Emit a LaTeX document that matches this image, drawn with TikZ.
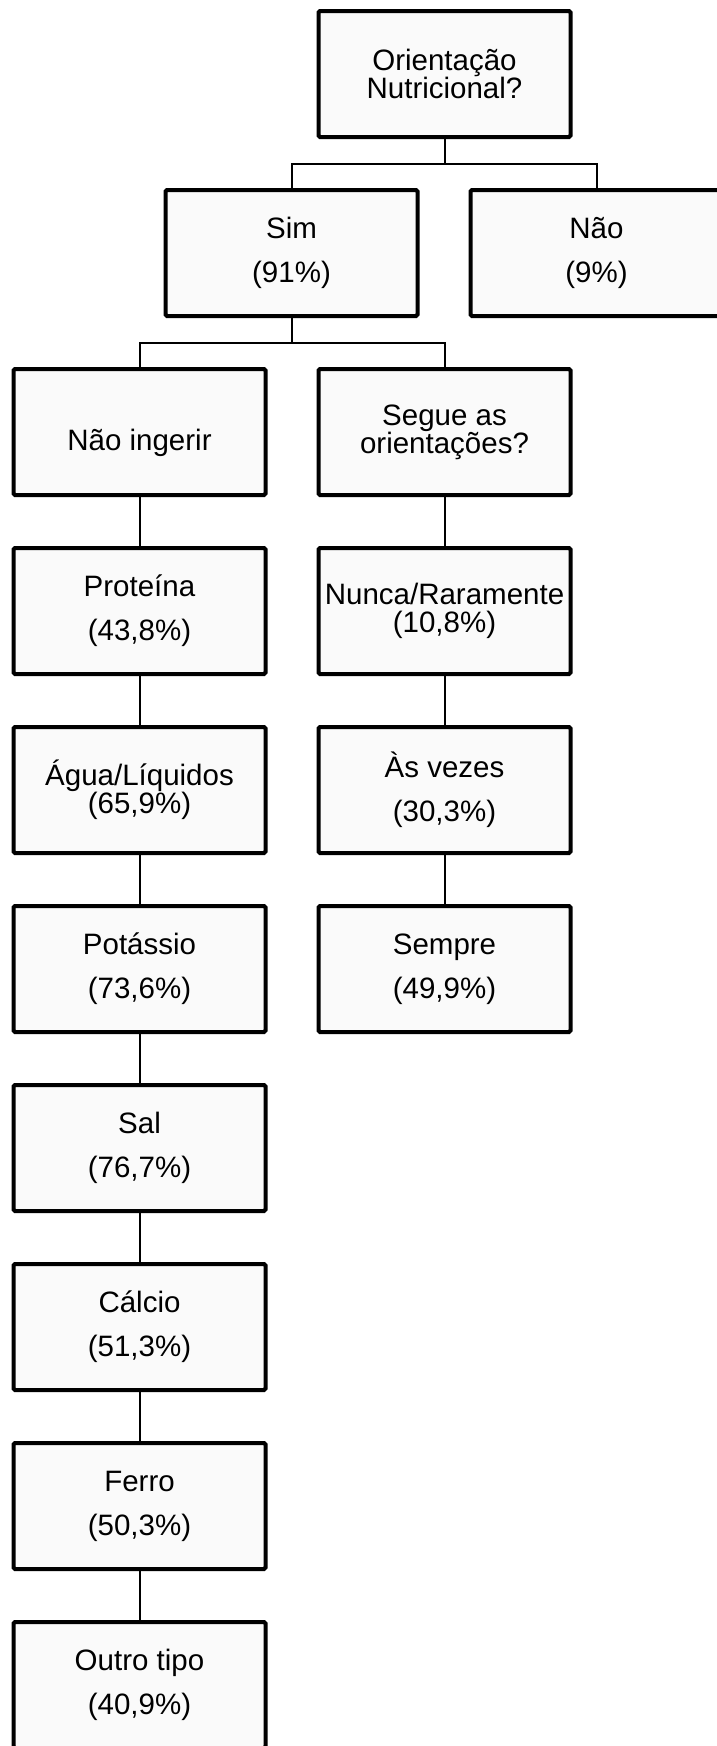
\documentclass[tikz,border=0pt]{standalone}
\usepackage{fontspec}
\setmainfont{Liberation Sans}
\usetikzlibrary{positioning}

\definecolor{boxfill}{RGB}{250,250,250}

\begin{document}
\begin{tikzpicture}
        [
            x=1pt, y=1pt,
            node distance=53pt,
            line/.style = {
                draw,
                line width=2pt
            },
            block/.style = {
                rectangle,
                draw,
                line width=4pt,
                fill=boxfill,
                rounded corners=1.5pt,
                minimum width=252pt,
                minimum height=126pt,
                inner sep=0pt,
                outer sep=0pt,
                align=center,
                font=\fontsize{29.5}{44}\selectfont
            },
            tight/.style = {
                block,
                font=\fontsize{29.5}{28}\selectfont
            }
        ]

        \useasboundingbox (0,0) rectangle (716,-1746);

        \node[tight] (orient) at (444.5,-74) {Orientação\\Nutricional?};
        \node[block,below=of orient,xshift=-153pt] (sim) {Sim\\(91\%)};
        \node[block,right=of sim] (nao) {Não\\(9\%)};
        \node[block,below=of sim,xshift=-152pt] (ingerir) {\mbox{}\\Não ingerir};
        \node[tight,right=of ingerir] (segue) {Segue as\\orientações?};

        % o que nao ingerir
        \node[block,below=of ingerir] (proteina) {Proteína\\(43,8\%)};
        \node[tight,below=of proteina] (agua) {Água/Líquidos\\(65,9\%)};
        \node[block,below=of agua] (potassio) {Potássio\\(73,6\%)};
        \node[block,below=of potassio] (sal) {Sal\\(76,7\%)};
        \node[block,below=of sal] (calcio) {Cálcio\\(51,3\%)};
        \node[block,below=of calcio] (ferro) {Ferro\\(50,3\%)};
        \node[block,below=of ferro] (outro) {Outro tipo\\(40,9\%)};

        % segue as orientacoes
        \node[tight,below=of segue] (nunca) {Nunca/Raramente\\(10,8\%)};
        \node[block,below=of nunca] (asvezes) {Às vezes\\(30,3\%)};
        \node[block,below=of asvezes] (sempre) {Sempre\\(49,9\%)};

        \path[line] (orient.south) -- ++(0,-26.5) -| (sim.north);
        \path[line] (orient.south) -- ++(0,-26.5) -| (nao.north);
        \path[line] (sim.south) -- ++(0,-26.5) -| (ingerir.north);
        \path[line] (sim.south) -- ++(0,-26.5) -| (segue.north);
        \path[line] (ingerir) -- (proteina);
        \path[line] (proteina) -- (agua);
        \path[line] (agua) -- (potassio);
        \path[line] (potassio) -- (sal);
        \path[line] (sal) -- (calcio);
        \path[line] (calcio) -- (ferro);
        \path[line] (ferro) -- (outro);
        \path[line] (segue) -- (nunca);
        \path[line] (nunca) -- (asvezes);
        \path[line] (asvezes) -- (sempre);
    \end{tikzpicture}
\end{document}
